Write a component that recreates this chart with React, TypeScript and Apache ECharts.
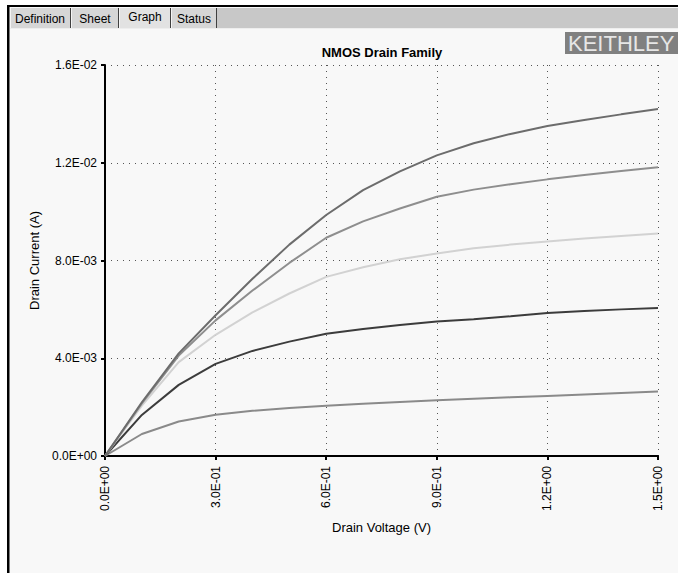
import React, { useEffect, useRef } from "react";
import * as echarts from "echarts";

const voltages = [0, 0.1, 0.2, 0.3, 0.4, 0.5, 0.6, 0.7, 0.8, 0.9, 1.0, 1.1, 1.2, 1.3, 1.4, 1.5];
const curve1 = [0, 0.9, 1.41, 1.69, 1.85, 1.96, 2.06, 2.14, 2.21, 2.28, 2.34, 2.4, 2.46, 2.52, 2.58, 2.64];
const curve2 = [0, 1.68, 2.91, 3.77, 4.3, 4.68, 5.0, 5.2, 5.36, 5.5, 5.6, 5.72, 5.85, 5.93, 6.0, 6.06];
const curve3 = [0, 2.06, 3.84, 4.96, 5.88, 6.65, 7.33, 7.72, 8.05, 8.29, 8.5, 8.65, 8.78, 8.9, 9.0, 9.1];
const curve4 = [0, 2.15, 4.11, 5.55, 6.77, 7.9, 8.93, 9.6, 10.13, 10.61, 10.9, 11.12, 11.32, 11.5, 11.66, 11.82];
const curve5 = [0, 2.2, 4.2, 5.76, 7.25, 8.65, 9.86, 10.88, 11.65, 12.3, 12.8, 13.18, 13.5, 13.75, 13.98, 14.2];
const curveColors = ["#8a8a8a", "#3c3c3c", "#d2d2d2", "#8e8e8e", "#6c6c6c"];
const tabs = ["Definition", "Sheet", "Graph", "Status"];

function sci(v: number): string {
  if (Math.abs(v) < 1e-12) return "0.0E+00";
  let e = Math.floor(Math.log10(Math.abs(v)) + 1e-9);
  let m = v / Math.pow(10, e);
  m = Math.round(m * 10) / 10;
  if (m >= 10) { m = m / 10; e += 1; }
  const sign = e < 0 ? "-" : "+";
  const ae = Math.abs(e);
  return m.toFixed(1) + "E" + sign + (ae < 10 ? "0" + ae : "" + ae);
}

export default function App() {
  const ref = useRef<HTMLDivElement>(null);
  useEffect(() => {
    document.body.style.margin = "0";
    const chart = echarts.init(ref.current!, undefined, { renderer: "svg" });
    const mk = (arr: number[]) => voltages.map((v, i) => [v, arr[i] * 1e-3]);
    const series = [curve1, curve2, curve3, curve4, curve5].map((c, i) => ({
      type: "line",
      data: mk(c),
      showSymbol: false,
      lineStyle: { color: curveColors[i], width: 2 },
      z: 3,
    }));
    const font = "Arial, 'Liberation Sans', sans-serif";
    const tabX = [
      { x0: 10, x1: 71, tx: 40 },
      { x0: 71, x1: 119, tx: 95 },
      { x0: 119, x1: 171, tx: 145 },
      { x0: 171, x1: 217, tx: 194 },
    ];
    const graphics: any[] = [
      { type: "rect", shape: { x: 0, y: 0, width: 678, height: 6 }, style: { fill: "#ffffff" }, silent: true },
      { type: "rect", shape: { x: 0, y: 0, width: 8, height: 573 }, style: { fill: "#ffffff" }, silent: true },
      { type: "rect", shape: { x: 10, y: 8, width: 668, height: 20 }, style: { fill: "#c8c8c8" }, silent: true },
      { type: "line", shape: { x1: 10, y1: 28.5, x2: 678, y2: 28.5 }, style: { stroke: "#eeeeee", lineWidth: 1 }, silent: true },
      { type: "rect", shape: { x: 8, y: 5, width: 670, height: 2 }, style: { fill: "#000000" }, silent: true },
      { type: "rect", shape: { x: 7, y: 5, width: 2.5, height: 568 }, style: { fill: "#000000" }, silent: true },
    ];
    tabs.forEach((t, i) => {
      const tb = tabX[i];
      const sel = t === "Graph";
      graphics.push({
        type: "rect",
        shape: { x: tb.x0, y: 8, width: tb.x1 - tb.x0, height: 20 },
        style: { fill: sel ? "#e2e2e2" : "#d6d6d6" },
        silent: true,
      });
      graphics.push({
        type: "line",
        shape: { x1: tb.x1 - 0.5, y1: 8, x2: tb.x1 - 0.5, y2: 28 },
        style: { stroke: "#404040", lineWidth: 1 },
        silent: true,
      });
      graphics.push({
        type: "line",
        shape: { x1: tb.x0 + 0.5, y1: 8, x2: tb.x0 + 0.5, y2: 28 },
        style: { stroke: "#f4f4f4", lineWidth: 1 },
        silent: true,
      });
      graphics.push({
        type: "text",
        x: tb.tx,
        y: sel ? 17 : 19,
        style: { text: t, fill: "#000000", font: "12px " + font, textAlign: "center", textVerticalAlign: "middle" },
        silent: true,
      });
    });
    graphics.push(
      { type: "rect", shape: { x: 565, y: 32, width: 113, height: 22 }, style: { fill: "#808080" }, silent: true },
      {
        type: "text",
        x: 568,
        y: 43,
        style: { text: "KEITHLEY", fill: "#e6e6e6", font: "22px " + font, textAlign: "left", textVerticalAlign: "middle" },
        silent: true,
      }
    );
    chart.setOption({
      animation: false,
      backgroundColor: "#f8f8f8",
      textStyle: { fontFamily: font },
      title: {
        text: "NMOS Drain Family",
        left: 377,
        top: 41,
        textAlign: "center",
        textStyle: { fontSize: 13, fontWeight: "bold", color: "#000", fontFamily: font },
      },
      grid: { left: 105, right: 20, top: 65, bottom: 117, containLabel: false },
      xAxis: {
        type: "value",
        min: 0,
        max: 1.5,
        interval: 0.3,
        name: "Drain Voltage (V)",
        nameLocation: "middle",
        nameGap: 65,
        nameTextStyle: { fontSize: 13, color: "#000", fontFamily: font },
        axisLine: { show: true, lineStyle: { color: "#000", width: 2 } },
        axisTick: { show: true, length: 4, lineStyle: { color: "#000", width: 2 } },
        axisLabel: { rotate: 90, fontSize: 12, color: "#000", margin: 10, formatter: (v: number) => sci(v) },
        splitLine: { show: true, lineStyle: { color: "#555", width: 1, type: [1, 5] } },
      },
      yAxis: {
        type: "value",
        min: 0,
        max: 0.016,
        interval: 0.004,
        name: "Drain Current (A)",
        nameLocation: "middle",
        nameGap: 62,
        nameRotate: 90,
        nameTextStyle: { fontSize: 13, color: "#000", fontFamily: font },
        axisLine: { show: true, lineStyle: { color: "#000", width: 2 } },
        axisTick: { show: true, length: 4, lineStyle: { color: "#000", width: 2 } },
        axisLabel: { fontSize: 12, color: "#000", margin: 8, formatter: (v: number) => sci(v) },
        splitLine: { show: true, lineStyle: { color: "#555", width: 1, type: [1, 5] } },
      },
      graphic: graphics,
      series,
    });
    return () => chart.dispose();
  }, []);
  return <div ref={ref} style={{ position: "absolute", left: 0, top: 0, width: 678, height: 573 }} />;
}
